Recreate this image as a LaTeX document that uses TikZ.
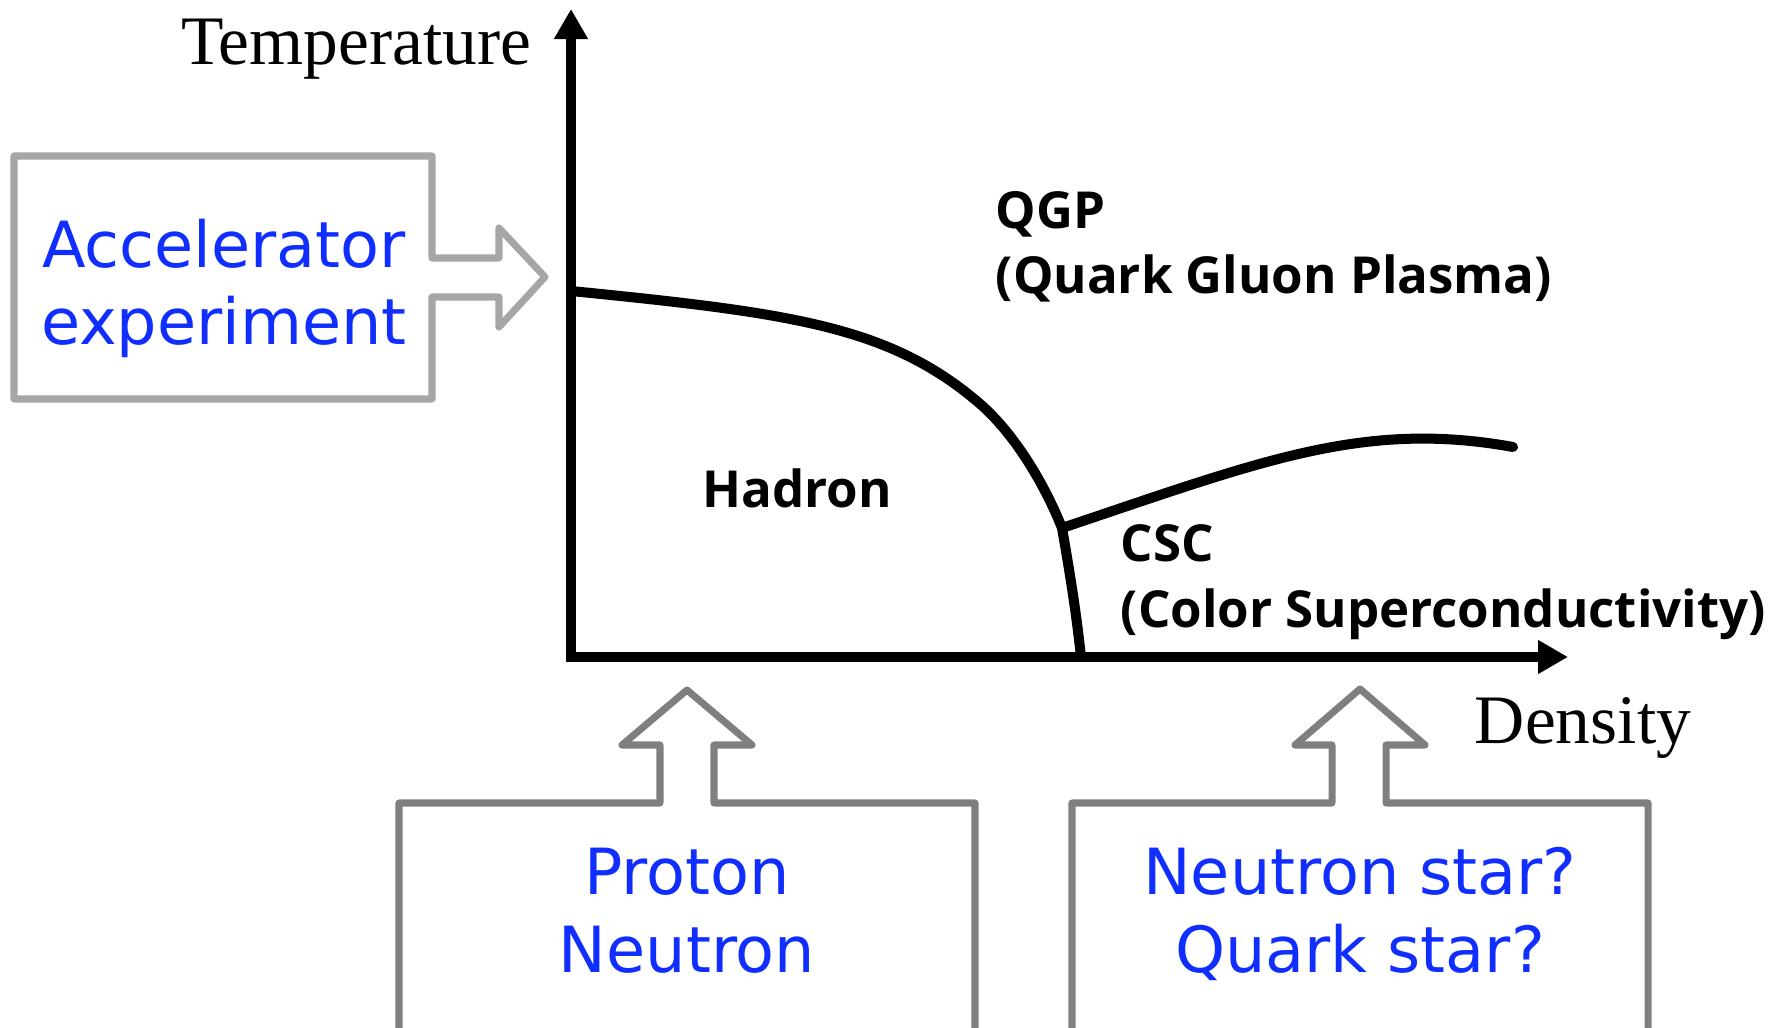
\documentclass[tikz,border=0pt]{standalone}
\usepackage{xcolor}
\usepackage{fontspec}
\usepackage{tikz}
\usetikzlibrary{arrows.meta,calc}
\newfontfamily\axisfont{Liberation Serif}
\newfontfamily\phasefont{Open Sans}
\newfontfamily\boxfont{DejaVu Sans}
\definecolor{BoxBlue}{HTML}{0F2EFF}
\definecolor{LightFrame}{HTML}{A6A6A6}
\definecolor{DarkFrame}{HTML}{7F7F7F}
\tikzset{
  AX/.style={line width=2.85pt,{Triangle[length=0.3cm,width=0.32cm]}-{Triangle[length=0.3cm,width=0.32cm]}},
  PB/.style={line width=2.85pt,line cap=round},
  CL/.style={line width=2pt,line join=round,draw=LightFrame},
  CD/.style={line width=2pt,line join=round,draw=DarkFrame},
  tA/.style={font=\axisfont\fontsize{19.75}{22}\selectfont,anchor=base,inner sep=0pt},
  tP/.style={font=\phasefont\bfseries\fontsize{14.5}{18.6}\selectfont,align=left,inner sep=0pt},
  tB/.style={font=\boxfont\fontsize{18.1}{21.9}\selectfont,text=BoxBlue,align=center,inner sep=0pt}
}
\begin{document}
\begin{tikzpicture}[x=0.01cm,y=-0.01cm]
  \useasboundingbox (0,0) rectangle (1791,1028);
  % axes
  \coordinate (top) at (571,9);
  \coordinate (O) at (571,657);
  \coordinate (right) at (1568,657);
  \draw[AX] (top)--(O)--(right);
  \node[tA] (temp) at (356,65) {Temperature};
  \node[tA] (dens) at (1583,743) {Density};

  % phase boundaries
  \coordinate (kink) at (1062,528);
  \draw[PB] (571,291) .. controls (791,313) and (889,326) .. (979,403)
                      .. controls (1014,433) and (1044,483) .. (kink)
                      .. controls (1072,585) and (1077,620) .. (1081,657);
  \draw[PB] (kink) .. controls (1262,461) and (1363,420) .. (1513,447);

  % base anchor of a two-line node sits on its last line
  \node[tP,anchor=base] (hadron) at (797,508) {Hadron};
  \node[tP,anchor=base west] (qgp) at (995,294) {QGP\\(Quark Gluon Plasma)};
  \node[tP,anchor=base west] (csc) at (1120,627) {CSC\\(Color Superconductivity)};

  % callouts
  \draw[CL] (14,156)--(432,156)--(432,258)--(499,258)--(499,228)--(545,277)
            --(499,327)--(499,297)--(432,297)--(432,399)--(14,399)--cycle;
  \node[tB,anchor=base] (acc) at (224,345) {Accelerator\\experiment};

  \draw[CD] (399,1040)--(399,803)--(660,803)--(660,745)--(622,745)--(687,690)
            --(752,745)--(714,745)--(714,803)--(975,803)--(975,1040);
  \node[tB,anchor=base] (nucl) at (687,972) {Proton\\Neutron};

  \draw[CD] (1072,1040)--(1072,803)--(1332,803)--(1332,745)--(1295,745)--(1360,689)
            --(1425,745)--(1386,745)--(1386,803)--(1648,803)--(1648,1040);
  \node[tB,anchor=base] (star) at (1360,972) {Neutron star?\\Quark star?};
\end{tikzpicture}
\end{document}
